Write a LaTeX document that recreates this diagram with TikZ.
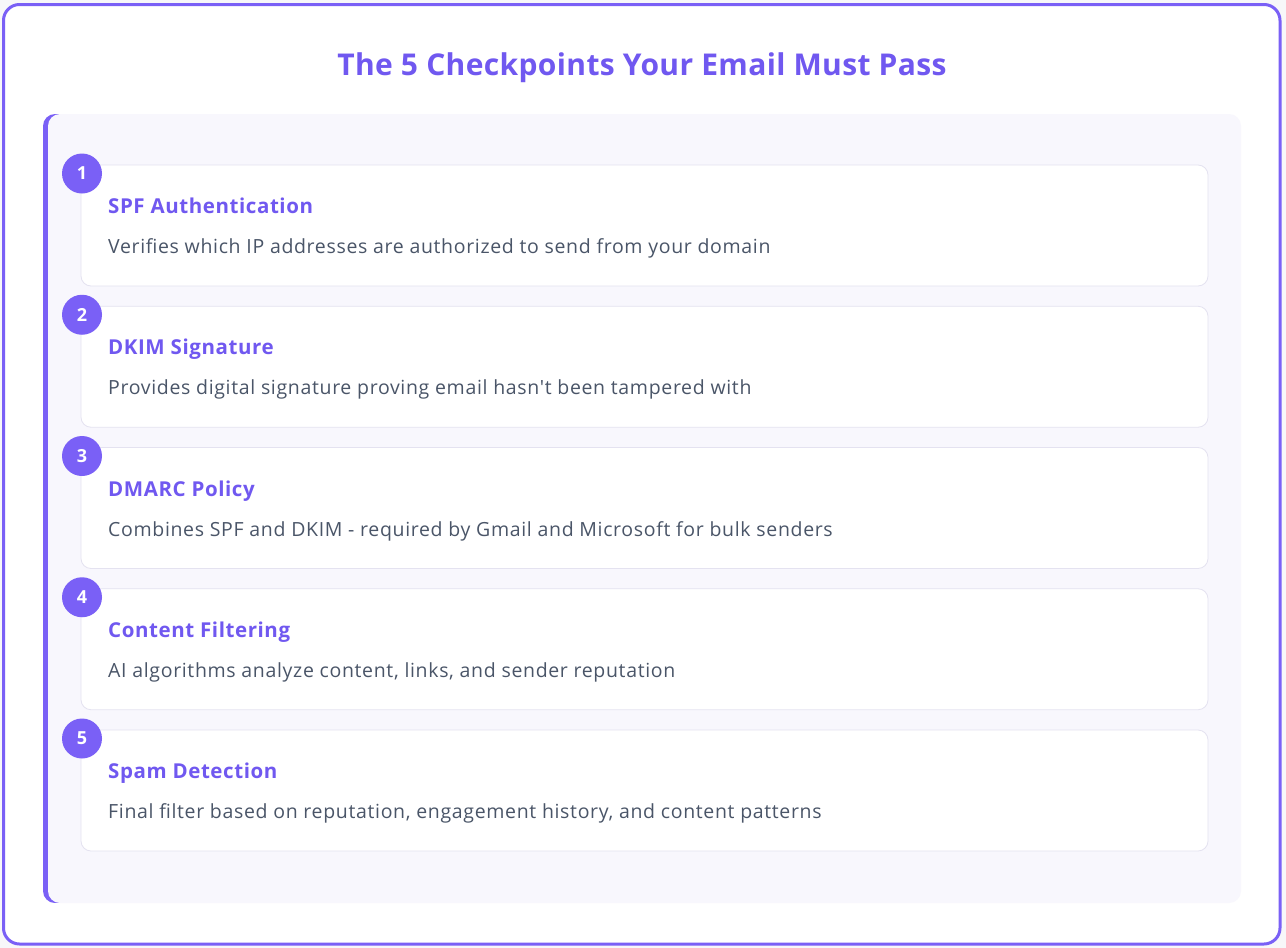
\documentclass[tikz,border=0pt]{standalone}
\usepackage{fontspec}
\defaultfontfeatures{}
\setmainfont{Open Sans}
\newfontfamily\ttlfont{Open Sans}[LetterSpace=1.2]
\newfontfamily\ctfont{Open Sans}[LetterSpace=2.8]
\newfontfamily\dfont{Open Sans}[LetterSpace=3.4]
\definecolor{frame}{RGB}{122,96,246}
\definecolor{ttl}{RGB}{112,88,240}
\definecolor{panel}{RGB}{248,247,253}
\definecolor{cardline}{RGB}{228,226,240}
\definecolor{desc}{RGB}{74,85,104}
\definecolor{pagebg}{RGB}{247,247,249}
\tikzset{
  card/.style={draw=cardline, line width=0.8pt, fill=white, rounded corners=10pt},
  badge/.style={circle, fill=frame, minimum size=40pt, inner sep=0pt, text=white, font=\fontsize{18}{18}\selectfont\bfseries},
  ctitle/.style={anchor=base west, inner sep=0pt, text=ttl, font=\ctfont\fontsize{20.5}{21}\selectfont\bfseries},
  cdesc/.style={anchor=base west, inner sep=0pt, text=desc, font=\dfont\fontsize{19.5}{20}\selectfont},
}
\begin{document}
\begin{tikzpicture}[x=1pt,y=-1pt]
\useasboundingbox (0,0) rectangle (1286,948);
\fill[pagebg] (0,0) rectangle (1286,948);
\draw[frame, line width=3pt, fill=white, rounded corners=16pt] (3.5,4.5) rectangle (1280,944);
\node[inner sep=0pt, anchor=base, text=ttl, font=\ttlfont\fontsize{30}{32}\selectfont\bfseries] (title) at (642,75) {The 5 Checkpoints Your Email Must Pass};
\begin{scope}
  \clip[rounded corners=12pt] (43,114) rectangle (1241,903);
  \fill[frame] (43,114) rectangle (70,903);
\end{scope}
\fill[panel, rounded corners=12pt] (48,114) rectangle (1241,903);
\foreach \i/\t/\d in {
  0/SPF Authentication/Verifies which IP addresses are authorized to send from your domain,
  1/DKIM Signature/Provides digital signature proving email hasn't been tampered with,
  2/DMARC Policy/Combines SPF and DKIM - required by Gmail and Microsoft for bulk senders,
  3/Content Filtering/{AI algorithms analyze content, links, and sender reputation},
  4/Spam Detection/{Final filter based on reputation, engagement history, and content patterns}}{
  \pgfmathsetmacro{\yy}{165+141.25*\i}
  \draw[card] (81,\yy) rectangle (1208,\yy+121);
  \node[ctitle] (t\i) at (108,\yy+48.5) {\t};
  \node[cdesc] (d\i) at (108,\yy+88.5) {\d};
  \pgfmathtruncatemacro{\n}{\i+1}
  \node[badge] (b\i) at (82,\yy+8.5) {\n};
}
\end{tikzpicture}
\end{document}
